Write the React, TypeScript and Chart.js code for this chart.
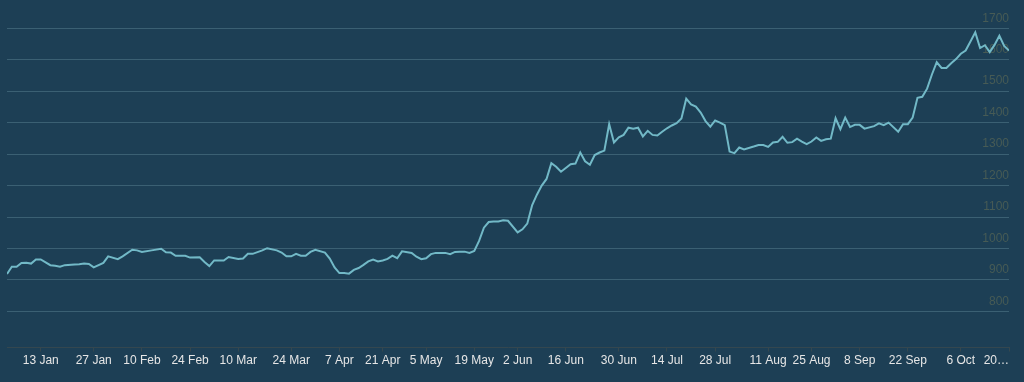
import React, { useEffect, useRef } from 'react';
import { Chart, registerables } from 'chart.js';

Chart.register(...registerables);

// trading-day index of each reading
const dayIndex = [
  0, 1, 2, 3, 4, 5, 6, 7, 9, 10, 11, 12, 14, 15, 16, 17, 18, 20, 21, 23, 24, 26, 27, 28, 30, 32, 33,
  34, 35, 37, 38, 40, 41, 42, 43, 45, 46, 48, 49, 50, 51, 53, 54, 56, 57, 58, 59, 60, 61, 62, 63, 64, 66, 67,
  68, 69, 70, 71, 72, 73, 74, 75, 76, 77, 78, 79, 80, 81, 82, 84, 85, 86, 87, 88, 89, 90, 91, 92, 93, 94, 95, 96, 97, 98, 99, 100, 101, 102, 103, 104,
  106, 107, 108, 109, 110, 111, 112, 113, 114, 115, 117, 118, 119, 120, 121, 122, 123, 124, 125, 126, 127, 128, 129, 130, 131,
  132, 133, 134, 135, 136, 137, 138, 139, 140, 141, 142, 143, 144, 145, 146, 147, 148, 149, 150, 151, 152, 153, 155, 156,
  157, 158, 159, 160, 161, 162, 163, 164, 165, 166, 167, 168, 169, 170, 171, 172, 173, 174, 175, 176, 177, 178, 180,
  181, 182, 183, 185, 186, 187, 188, 189, 190, 191, 192, 193, 194, 195, 196, 197, 198, 199, 200, 201, 202, 203, 204, 205, 206, 207, 208,
];

const values = [
  919, 942, 942, 954, 955, 952, 965, 965, 947, 945, 942, 947, 949, 950, 952, 951, 940, 954, 975, 966, 975, 996, 994, 989, 994, 999, 988,
  987, 977, 977, 971, 972, 957, 944, 962, 962, 973, 967, 968, 983, 983, 994, 1001, 994, 987, 975, 975, 983, 977, 977, 989, 996, 987, 968,
  940, 922, 922, 920, 932, 938, 948, 959, 965, 959, 962, 967, 977, 969, 991, 986, 974, 966, 969, 982, 986, 986, 986, 982, 989, 990, 990, 986, 992, 1024, 1066, 1084, 1086, 1086, 1090, 1088,
  1051, 1061, 1079, 1137, 1171, 1200, 1221, 1271, 1260, 1244, 1268, 1270, 1305, 1277, 1266, 1297, 1305, 1311, 1395, 1337, 1353, 1361, 1384, 1381, 1384,
  1356, 1374, 1361, 1359, 1371, 1382, 1391, 1398, 1413, 1476, 1458, 1451, 1432, 1405, 1387, 1407, 1400, 1392, 1308, 1303, 1321, 1315, 1324, 1329,
  1329, 1323, 1337, 1339, 1355, 1336, 1338, 1349, 1340, 1332, 1340, 1353, 1342, 1347, 1349, 1414, 1379, 1416, 1386, 1393, 1393, 1381, 1389,
  1398, 1392, 1400, 1371, 1395, 1395, 1416, 1479, 1482, 1508, 1553, 1592, 1574, 1574, 1589, 1602, 1619, 1629, 1658, 1687, 1637, 1646, 1624, 1647, 1676, 1644, 1629,
];

const xTickIndex = [7, 18, 28, 38, 48, 59, 69, 78, 87, 97, 106, 116, 127, 137, 147, 158, 167, 177, 187, 198, 208];
const xTickLabels = [
  '13 Jan', '27 Jan', '10 Feb', '24 Feb', '10 Mar', '24 Mar', '7 Apr', '21 Apr', '5 May', '19 May', '2 Jun',
  '16 Jun', '30 Jun', '14 Jul', '28 Jul', '11 Aug', '25 Aug', '8 Sep', '22 Sep', '6 Oct', '20…',
];
const yTicks = [800, 900, 1000, 1100, 1200, 1300, 1400, 1500, 1600, 1700];

const FONT = '"Liberation Sans", Arial, Helvetica, sans-serif';
const AXIS_COLOR = '#34474f';

export default function App() {
  const ref = useRef<HTMLCanvasElement>(null);

  useEffect(() => {
    if (!ref.current) return;
    const chart = new Chart(ref.current, {
      type: 'line',
      data: {
        datasets: [
          {
            data: dayIndex.map((x, i) => ({ x, y: values[i] })),
            borderColor: '#72b9c7',
            borderWidth: 2,
            pointRadius: 0,
            tension: 0,
            fill: false,
          },
        ],
      },
      options: {
        responsive: false,
        maintainAspectRatio: false,
        animation: false,
        layout: { padding: { left: 7, right: 15, top: 10, bottom: 12 } },
        plugins: { legend: { display: false }, tooltip: { enabled: false } },
        scales: {
          x: {
            type: 'linear',
            min: 0,
            max: 208,
            afterBuildTicks: (s: any) => {
              // an unlabeled anchor tick at the axis start lets 'inner' alignment affect only the last label
              s.ticks = [{ value: s.min }, ...xTickIndex.map((v) => ({ value: v }))];
            },
            grid: {
              drawOnChartArea: false,
              drawTicks: true,
              tickLength: 4,
              color: AXIS_COLOR,
              tickColor: (ctx: any) => (ctx.index === 0 ? 'rgba(0,0,0,0)' : AXIS_COLOR),
            },
            border: { display: true, color: AXIS_COLOR, width: 1 },
            ticks: {
              autoSkip: false,
              maxRotation: 0,
              minRotation: 0,
              align: 'inner',
              padding: 2,
              color: '#e6e6e6',
              font: { family: FONT, size: 12 },
              callback: (v: any) => {
                const i = xTickIndex.indexOf(Number(v));
                return i >= 0 ? xTickLabels[i] : '';
              },
            },
          },
          y: {
            position: 'right',
            min: 685,
            max: 1758,
            afterBuildTicks: (s: any) => {
              s.ticks = yTicks.map((v) => ({ value: v }));
            },
            grid: { color: '#3b6073', drawTicks: false, lineWidth: 1 },
            border: { display: false },
            ticks: {
              mirror: true,
              padding: 0,
              labelOffset: -10,
              color: '#475b55',
              font: { family: FONT, size: 12 },
              callback: (v: any) => String(v),
            },
          },
        },
      },
    });
    return () => chart.destroy();
  }, []);

  return (
    <div style={{ position: 'fixed', left: 0, top: 0, width: 1024, height: 382, background: '#1d3f55' }}>
      <canvas ref={ref} width={1024} height={382} style={{ display: 'block' }} />
    </div>
  );
}
